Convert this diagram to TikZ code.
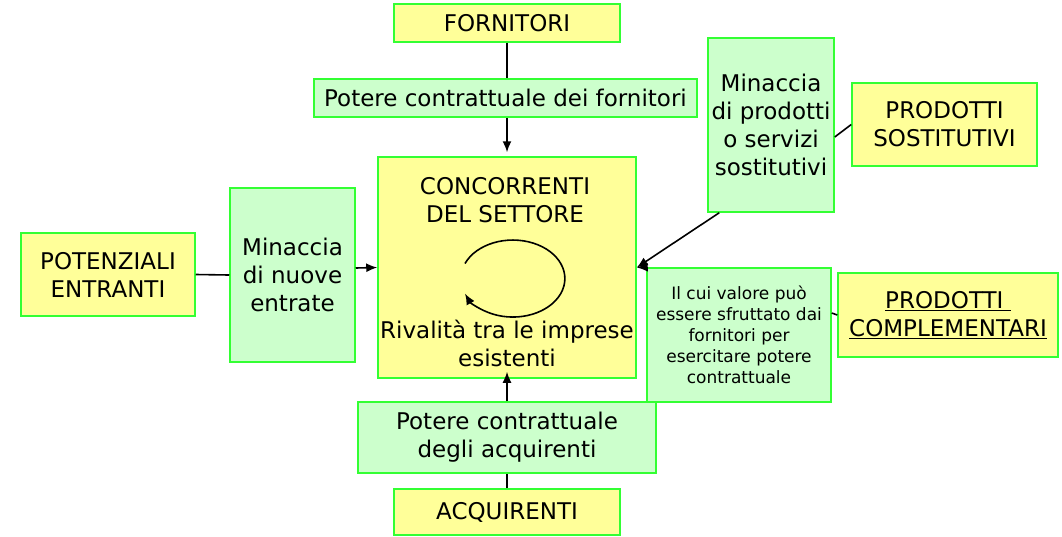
\documentclass[tikz,border=0pt]{standalone}
\usepackage{fontspec}
\setmainfont{DejaVu Sans}
\usetikzlibrary{arrows.meta,calc}

\definecolor{forceyellow}{RGB}{255,255,153}
\definecolor{threatgreen}{RGB}{204,255,204}
\definecolor{edgegreen}{RGB}{51,255,51}

\begin{document}
\begin{tikzpicture}[x=1pt, y=-1pt, >={Latex[length=11pt,width=9pt]},
  font=\fontsize{23}{28}\selectfont,
  forcebox/.style={draw=edgegreen, line width=1.5pt, fill=forceyellow, inner sep=0pt, align=center},
  threatbox/.style={draw=edgegreen, line width=1.5pt, fill=threatgreen, inner sep=0pt, align=center},
  link/.style={line width=1.6pt, black}]

\useasboundingbox (0,0) rectangle (1062,536);

% Top: fornitori
\node[forcebox, minimum width=226pt, minimum height=38pt] (forn) at (507,23) {FORNITORI};
\node[threatbox, minimum width=383pt, minimum height=38pt] (pforn) at (505.5,98) {Potere contrattuale dei fornitori};

% Centre: concorrenti del settore
\node[forcebox, minimum width=258pt, minimum height=221pt] (conc) at (507,267.5) {};
\node[align=center, inner sep=0pt] (concname) at (505,200) {CONCORRENTI\\DEL SETTORE};
\node[align=center, inner sep=0pt] (rival) at (507,343) {Rivalità tra le imprese\\esistenti};
\coordinate (loopstart) at (465,263.5);
\draw[link, ->] (loopstart) arc[start angle=157, end angle=-157, x radius=52pt, y radius=38.5pt];

% Left: potenziali entranti
\node[forcebox, minimum width=174pt, minimum height=83pt] (potenz) at (108,274.5) {POTENZIALI\\ENTRANTI};
\node[threatbox, minimum width=125pt, minimum height=174pt] (minnuove) at (292.5,275) {Minaccia\\di nuove\\entrate};

% Right: prodotti sostitutivi
\node[threatbox, minimum width=126pt, minimum height=174pt] (minsost) at (771,125) {Minaccia\\di prodotti\\o servizi\\sostitutivi};
\node[forcebox, minimum width=185pt, minimum height=83pt] (prodsost) at (944.5,124.5) {PRODOTTI\\SOSTITUTIVI};

% Right: prodotti complementari
\node[threatbox, minimum width=184pt, minimum height=134pt, font=\fontsize{17}{21}\selectfont] (valore) at (739,335)
  {Il cui valore può\\essere sfruttato dai\\fornitori per\\esercitare potere\\contrattuale};
\node[forcebox, minimum width=220pt, minimum height=84pt] (prodcomp) at (948,315)
  {\underline{PRODOTTI~}\\\underline{COMPLEMENTARI}};

% Bottom: acquirenti
\node[threatbox, minimum width=298pt, minimum height=71pt] (pacq) at (507,437.5) {Potere contrattuale\\degli acquirenti};
\node[forcebox, minimum width=226pt, minimum height=46pt] (acq) at (507,512) {ACQUIRENTI};

% Connectors
\draw[link] (forn.south) -- (forn.south |- pforn.north);
\draw[link, ->, shorten >=4pt] (conc.north |- pforn.south) -- (conc.north);
\draw[link] (acq.north) -- (pacq.south);
\draw[link, ->, shorten >=-7pt] (pacq.north) -- (conc.south);
\draw[link] (potenz.east) -- (minnuove.west);
\draw[link, ->] ($(minnuove.east)+(0,-7)$) -- (conc.west);
\draw[link] ($(minsost.east)+(0,12)$) -- (prodsost.west);
\draw[link, ->] ($(minsost.south west)+(12,0)$) -- (conc.east);
\draw[link, ->] (valore.north west) -- (conc.east);
\draw[link] ($(valore.east)+(0,-22)$) -- (prodcomp.west);

\end{tikzpicture}
\end{document}
